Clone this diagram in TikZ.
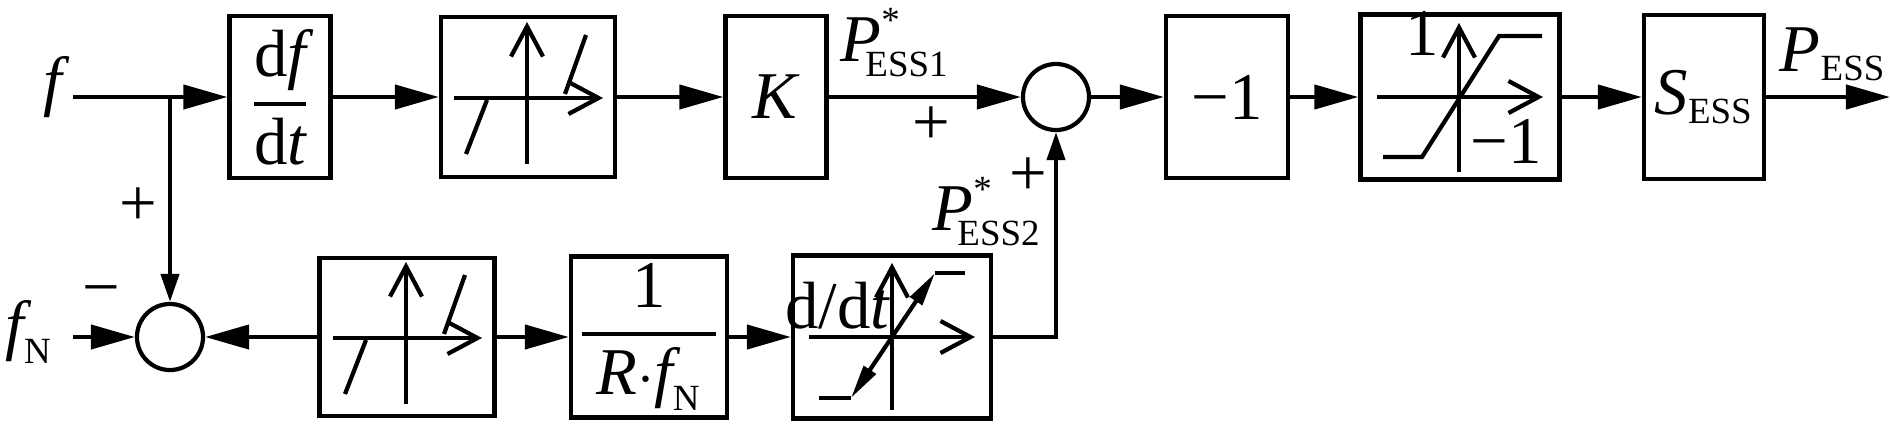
\documentclass[tikz,border=0pt]{standalone}
\usepackage{amsmath}
\usepackage{fontspec}
\setmainfont{Liberation Serif}
\DeclareMathSizes{19}{19}{10.5}{8}
\usetikzlibrary{arrows.meta}

\newcommand{\ffrac}[2]{\genfrac{}{}{1.1pt}{0}{#1}{#2}}
\newcommand{\deadzone}[1]{%
    \begin{scope}[shift={(#1.center)}]
        \draw[axisline] (-74,1) -- (75,1);
        \draw[axisline] (-1,67) -- (-1,-75);
        \draw[curve] (-62,57) -- (-41,3);
        \draw[curve] (37,-3) -- (58,-62);
    \end{scope}}

\begin{document}
\begin{tikzpicture}[x=0.01cm, y=-0.01cm,
    every node/.style={font=\fontsize{19}{22}\selectfont},
    block/.style={draw, line width=1.2pt, inner sep=0pt,
        minimum width=1.01cm, minimum height=1.62cm},
    sumpt/.style={circle, draw, line width=1.2pt, inner sep=0pt,
        minimum size=0.66cm},
    lbl/.style={inner sep=0.5pt},
    signal/.style={line width=1.2pt, -{Triangle[length=0.44cm, width=0.24cm]}},
    vsignal/.style={line width=1.2pt, -{Triangle[length=0.28cm, width=0.18cm]}},
    axisline/.style={line width=1.2pt, -{Straight Barb[length=0.3cm, width=0.32cm]}},
    curve/.style={line width=1.2pt}
]
    \useasboundingbox (0,0) rectangle (1890,433);

    \node[lbl] (f) at (57,87) {\textit{f}};
    \coordinate (fin) at (73,97);
    \coordinate (j) at (170,97);
    \node[block] (df) at (280,97) {$\ffrac{\text{d}\textit{f}}{\text{d}\textit{t}}$};
    \node[block, minimum width=1.74cm, minimum height=1.6cm] (dz1) at (528,97) {};
    \node[block] (k) at (776,97) {\textit{K}};
    \node[sumpt] (s1) at (1056,97) {};
    \node[block, minimum width=1.22cm] (neg) at (1227,97) {−1};
    \node[block, minimum width=1.99cm, minimum height=1.65cm] (sat) at (1460,97) {};
    \node[block, minimum width=1.2cm, minimum height=1.64cm] (ess) at (1704,97) {$\textit{S}_{\text{ESS}}$};
    \coordinate (out) at (1890,97);

    \node[lbl] (fn) at (29,332) {$\textit{f}_{\text{N}}$};
    \coordinate (fnin) at (73,337);
    \node[sumpt] (s2) at (170,337) {};
    \node[block, minimum width=1.75cm, minimum height=1.58cm] (dz2) at (407,337) {};
    \node[block, minimum width=1.56cm, minimum height=1.61cm] (r) at (649,337)
        {$\ffrac{\text{1}}{\kern0.15cm\textit{R}{\cdot}\textit{f}_{\text{N}}\kern0.15cm}$};
    \node[block, minimum width=1.98cm, minimum height=1.63cm] (rl) at (892,337) {};

    \node[lbl] (p1) at (895,43) {$\textit{P}^{\text{*}}_{\kern-0.16cm\text{ESS1}}$};
    \node[lbl] (p2) at (987,212) {$\textit{P}^{\text{*}}_{\kern-0.16cm\text{ESS2}}$};
    \node[lbl] (pess) at (1833,54) {$\textit{P}_{\text{ESS}}$};
    \node[lbl] (plus1) at (931,126) {+};
    \node[lbl] (plus2) at (1028,177) {+};
    \node[lbl] (plus3) at (138,207) {+};
    \node[lbl] (minus) at (101,298) {−};
    \node[lbl] (hi) at (1422,33) {1};
    \node[lbl] (lo) at (1506,141) {−1};
    \node[lbl] (ddt) at (838,306) {d/d\textit{t}};

    \deadzone{dz1}
    \deadzone{dz2}
    \begin{scope}[shift={(sat.center)}]
        \draw[axisline] (-83,0) -- (83,0);
        \draw[axisline] (-1,75) -- (-1,-74);
        \draw[curve] (-77,60) -- (-38,60) -- (39,-61) -- (82,-61);
    \end{scope}
    \begin{scope}[shift={(rl.center)}]
        \draw[axisline] (-83,0) -- (83,0);
        \draw[axisline] (0,73) -- (0,-74);
        \draw[curve] (-73,61) -- (-41,61);
        \draw[curve] (43,-64) -- (73,-64);
        \draw[curve, {Triangle[length=0.34cm, width=0.14cm]}-{Triangle[length=0.34cm, width=0.14cm]}]
            (-41,61) -- (43,-64);
    \end{scope}

    \draw[signal] (fin) -- (df);
    \draw[signal] (df) -- (dz1);
    \draw[signal] (dz1) -- (k);
    \draw[signal] (k) -- (s1);
    \draw[signal] (s1) -- (neg);
    \draw[signal] (neg) -- (sat);
    \draw[signal] (sat) -- (ess);
    \draw[signal] (ess) -- (out);
    \draw[vsignal] (j) -- (s2);
    \draw[signal] (fnin) -- (s2);
    \draw[signal] (dz2) -- (s2);
    \draw[signal] (dz2) -- (r);
    \draw[signal] (r) -- (rl);
    \draw[vsignal] (rl.east) -| (s1);
\end{tikzpicture}
\end{document}
